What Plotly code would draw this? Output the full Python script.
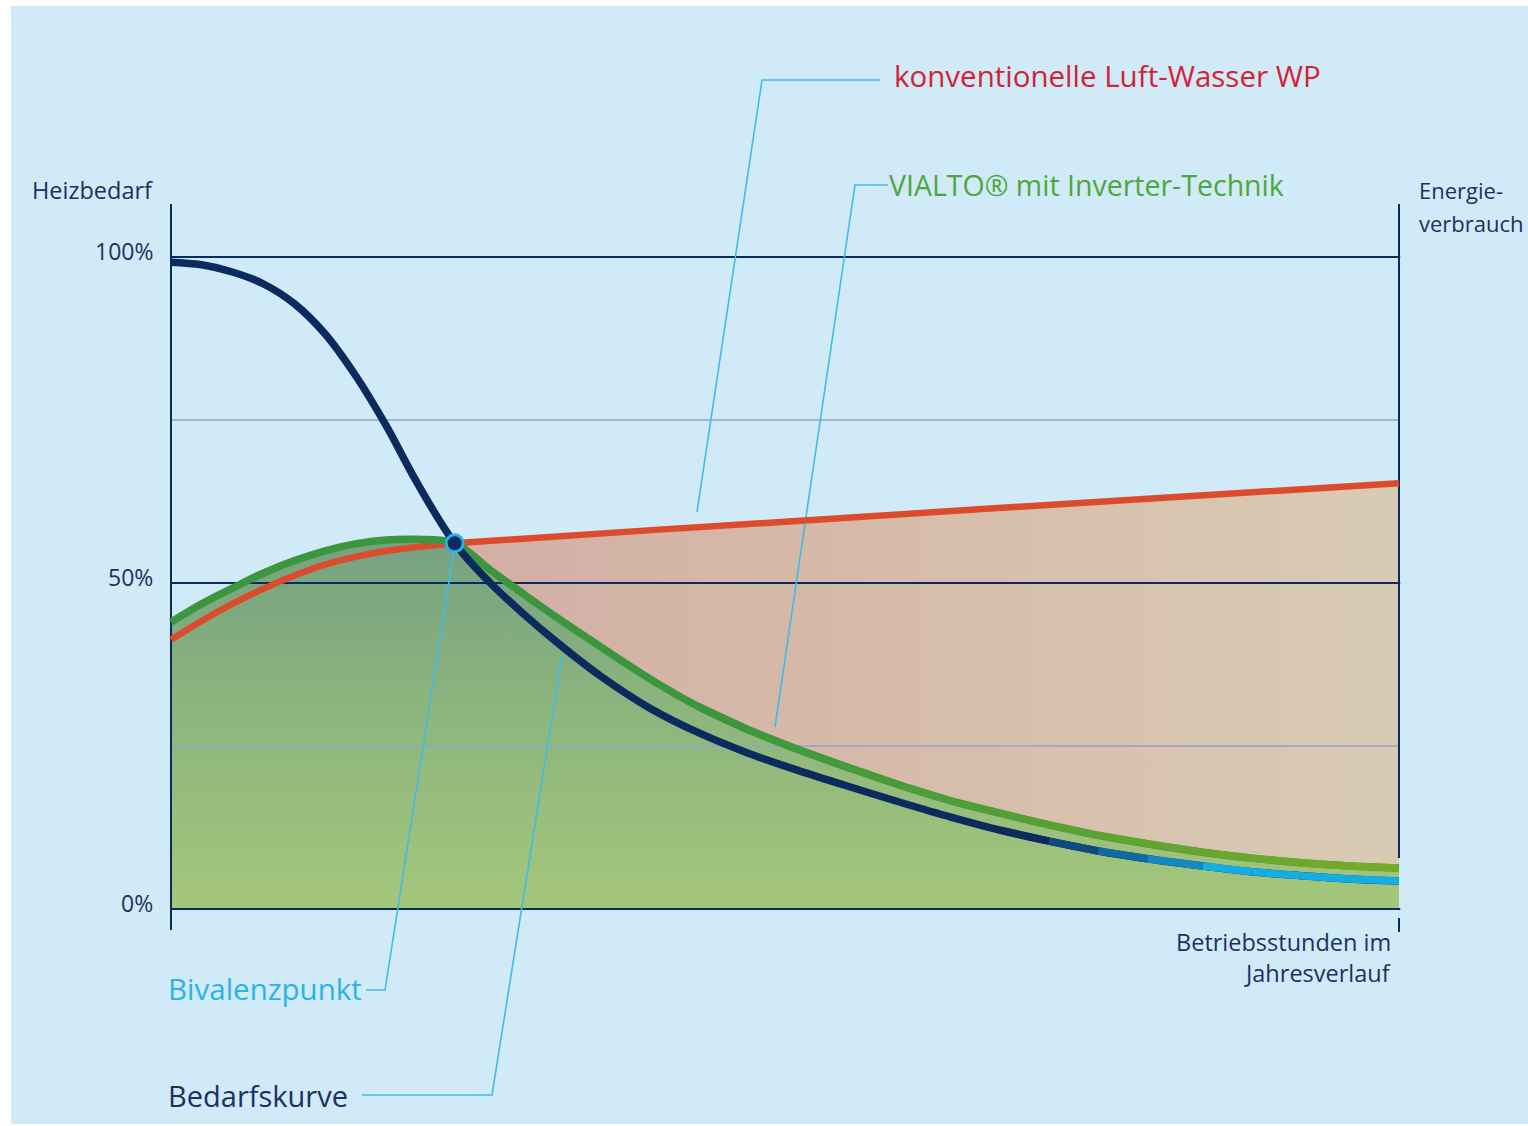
import plotly.graph_objects as go

# ---------------- data (percent of axis) ----------------
x_pct = [0, 2.5, 5, 7.5, 10, 12.5, 15, 17.5, 20, 23.1, 26, 28.5, 31.5, 35, 39, 43, 47,
         51, 55, 59.5, 63.5, 67.5, 71.5, 75.5, 79.5, 84, 88, 92, 96, 100]
bedarf = [99.2, 98.8, 97.7, 95.9, 92.9, 88.3, 81.9, 74.2, 65.5, 56.1, 50.0, 45.6, 40.8, 35.7,
          30.8, 27.0, 23.9, 21.3, 18.9, 16.3, 14.1, 12.1, 10.4, 8.9, 7.7, 6.6, 5.7, 5.1, 4.6, 4.3]
vialto = [44.0, 46.8, 49.2, 51.5, 53.4, 54.9, 56.0, 56.6, 56.7, 56.1, 52.0, 48.6, 44.6, 40.2,
          35.3, 31.0, 27.5, 24.5, 21.8, 18.9, 16.6, 14.7, 12.9, 11.3, 10.0, 8.7, 7.8, 7.1, 6.6, 6.3]
x_konv = [0, 2.5, 5, 7.5, 10, 12.5, 15, 17.5, 20, 23.1, 50, 75, 100]
konv = [41.3, 44.2, 46.8, 49.1, 51.1, 52.8, 54.0, 54.9, 55.5, 56.1, 59.4, 62.4, 65.3]
bival_idx = 9

y_ticks = [0, 50, 100]
y_tick_labels = ["0%", "50%", "100%"]
y_minor = [25, 75]

# ---------------- pixel mapping helpers (layout) ----------------
W, H = 1528, 1126
X0PX, X100PX = 171, 1399     # screen px of x = 0 / 100
Y0PX, PX_PER_PCT = 909, 6.52 # screen px of y = 0, px per percent
sx = (X100PX - X0PX) / 100.0
def px2x(p): return (p - X0PX) / sx
def px2y(p): return (Y0PX - p) / PX_PER_PCT

NAVY = "#0b2a5e"
TXT = "#1d3160"
CYAN = "#14ade4"
LEAD = "#3dbde9"
GREEN_D = "#3b963e"
GREEN_L = "#74ab2a"
RED = "#dc4b2b"
FONT = "Open Sans"

def hex2rgb(h):
    h = h.lstrip("#")
    return tuple(int(h[i:i + 2], 16) for i in (0, 2, 4))
def mix(c1, c2, t):
    a, b = hex2rgb(c1), hex2rgb(c2)
    return "rgb(%d,%d,%d)" % tuple(round(a[i] + (b[i] - a[i]) * t) for i in range(3))

fig = go.Figure()

# green fill under VIALTO curve
fig.add_trace(go.Scatter(
    x=x_pct, y=vialto, mode="lines", line=dict(width=0, shape="spline"),
    fill="tozeroy",
    fillgradient=dict(type="vertical", start=0, stop=57,
                      colorscale=[[0, "#a4c77b"], [0.55, "#8cb47d"], [1, "#74a181"]]),
    hoverinfo="skip"))

# tan fill between conventional and VIALTO (right of bivalence point)
fig.add_trace(go.Scatter(
    x=x_pct[bival_idx:], y=vialto[bival_idx:], mode="lines",
    line=dict(width=0, shape="spline"), hoverinfo="skip"))
kb = x_konv.index(x_pct[bival_idx])
fig.add_trace(go.Scatter(
    x=x_konv[kb:], y=konv[kb:], mode="lines", line=dict(width=0, shape="spline"),
    fill="tonexty",
    fillgradient=dict(type="horizontal", start=x_pct[bival_idx], stop=100,
                      colorscale=[[0, "#d3aea6"], [0.45, "#d6bba9"], [1, "#d9cbb3"]]),
    hoverinfo="skip"))

# grid lines
for v in y_minor:
    fig.add_trace(go.Scatter(x=[0, 100], y=[v, v], mode="lines",
                             line=dict(color="#8fa5bf", width=1.5), hoverinfo="skip"))
for v in y_ticks:
    fig.add_trace(go.Scatter(x=[0, 100.1], y=[v, v], mode="lines",
                             line=dict(color=NAVY, width=2.2), hoverinfo="skip"))
# vertical axes
fig.add_trace(go.Scatter(x=[0, 0], y=[px2y(930), px2y(204)], mode="lines",
                         line=dict(color=NAVY, width=2), hoverinfo="skip"))
fig.add_trace(go.Scatter(x=[100, 100], y=[px2y(858), px2y(204)], mode="lines",
                         line=dict(color=NAVY, width=2), hoverinfo="skip"))
fig.add_trace(go.Scatter(x=[100, 100], y=[px2y(918), px2y(932)], mode="lines",
                         line=dict(color=NAVY, width=2), hoverinfo="skip"))

# leader lines (screen pixels of the reference layout)
leaders = [
    [(880, 80), (762, 80), (697, 512)],
    [(888, 185), (855, 185), (775, 727)],
    [(366, 990), (385, 990), (455, 543)],
    [(362, 1095), (492, 1095), (562, 655)],
]
for pts in leaders:
    fig.add_trace(go.Scatter(x=[px2x(p[0]) for p in pts], y=[px2y(p[1]) for p in pts],
                             mode="lines", line=dict(color=LEAD, width=1.6), hoverinfo="skip"))

# curves
fig.add_trace(go.Scatter(x=x_konv, y=konv, mode="lines",
                         line=dict(color=RED, width=6.5, shape="spline"), hoverinfo="skip"))
fig.add_trace(go.Scatter(x=x_pct, y=vialto, mode="lines",
                         line=dict(color=GREEN_D, width=7.5, shape="spline"), hoverinfo="skip"))
# colour transition of green line
g_start = x_pct.index(43)
for i in range(g_start, len(x_pct) - 1):
    t = (x_pct[i] - x_pct[g_start]) / (100 - x_pct[g_start])
    fig.add_trace(go.Scatter(x=x_pct[i:i + 2], y=vialto[i:i + 2], mode="lines",
                             line=dict(color=mix(GREEN_D, GREEN_L, min(1, t * 1.1)), width=7.5),
                             hoverinfo="skip"))
fig.add_trace(go.Scatter(x=x_pct, y=bedarf, mode="lines",
                         line=dict(color=NAVY, width=7.5, shape="spline"), hoverinfo="skip"))
# colour transition of demand curve to cyan
b_start = x_pct.index(67.5)
b_end = x_pct.index(84)
for i in range(b_start, len(x_pct) - 1):
    t = (x_pct[i] - x_pct[b_start]) / (x_pct[b_end] - x_pct[b_start])
    fig.add_trace(go.Scatter(x=x_pct[i:i + 2], y=bedarf[i:i + 2], mode="lines",
                             line=dict(color=mix(NAVY, CYAN, min(1, t)), width=7.5),
                             hoverinfo="skip"))

# bivalence point
fig.add_trace(go.Scatter(x=[x_pct[bival_idx]], y=[bedarf[bival_idx]], mode="markers",
                         marker=dict(size=17, color=NAVY, line=dict(color="#22b4ea", width=3)),
                         hoverinfo="skip"))

# ---------------- texts ----------------
ann = []
def text(t, xp, yp, size, color, xanchor="left"):
    ann.append(dict(text=t, x=px2x(xp), y=px2y(yp), xref="x", yref="y", showarrow=False,
                    xanchor=xanchor, yanchor="middle",
                    font=dict(family=FONT, size=size, color=color)))

text("Heizbedarf", 155, 190, 23.5, TXT, "right")
for v, lab in zip(y_ticks, y_tick_labels):
    ann.append(dict(text=lab, x=px2x(155), y=v + 0.9, xref="x", yref="y", showarrow=False,
                    xanchor="right", yanchor="middle",
                    font=dict(family=FONT, size=23, color=TXT)))
text("Energie-", 1417, 190, 22, TXT)
text("verbrauch", 1417, 223, 22, TXT)
text("Betriebsstunden im", 1393, 942, 23.5, TXT, "right")
text("Jahresverlauf", 1393, 973, 23.5, TXT, "right")
text("konventionelle Luft-Wasser WP", 892, 75, 29.5, "#d42235")
text("VIALTO® mit Inverter-Technik", 887, 185, 28.5, "#4ea73c")
text("Bivalenzpunkt", 166, 988, 29.5, "#2ab4e6")
text("Bedarfskurve", 166, 1095, 29, TXT)

fig.update_layout(
    width=W, height=H, margin=dict(l=0, r=0, t=0, b=0, pad=0),
    paper_bgcolor="white", plot_bgcolor="rgba(0,0,0,0)",
    showlegend=False,
    xaxis=dict(visible=False, range=[px2x(0), px2x(W)], fixedrange=True),
    yaxis=dict(visible=False, range=[px2y(H), px2y(0)], fixedrange=True),
    annotations=ann,
    shapes=[dict(type="rect", xref="paper", yref="paper", x0=11 / W, x1=1,
                 y0=1 - 1124 / H, y1=1 - 6 / H, fillcolor="#d0eaf7", line=dict(width=0),
                 layer="below")],
)

fig.write_html("out.html", config={"displayModeBar": False},
               post_script="document.body.style.margin='0px';"
                           "document.body.style.overflow='hidden';")
